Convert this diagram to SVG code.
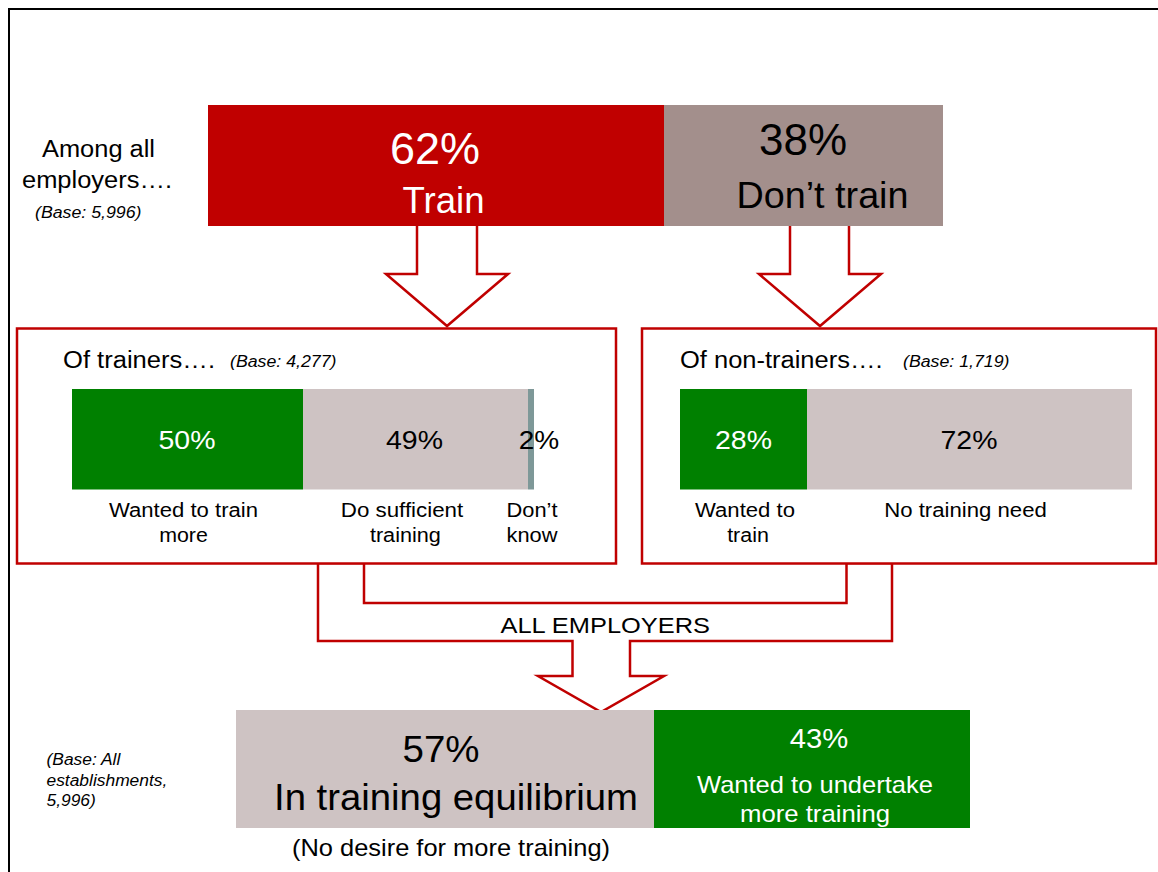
<svg xmlns="http://www.w3.org/2000/svg" width="1158" height="872" viewBox="0 0 1158 872">
<style>
text{font-family:"Liberation Sans",Arial,sans-serif;}
.it{font-style:italic;}
.w{fill:#ffffff;}
.k{fill:#000000;}
.m{text-anchor:middle;}
.box{fill:#ffffff;stroke:#C00000;stroke-width:2.5;}
.con{fill:#ffffff;stroke:#C00000;stroke-width:2.5;stroke-linejoin:miter;}
.red{fill:#C00000;}
.mauve{fill:#A38F8C;}
.lg{fill:#CEC3C3;}
.gr{fill:#008000;}
.sl{fill:#7E9898;}
</style>
<rect x="0" y="0" width="1158" height="872" fill="#ffffff"/>
<rect x="9" y="9" width="1200" height="900" fill="none" stroke="#000000" stroke-width="2"/>

<g id="intro">
<text x="42" y="157" font-size="23" textLength="113" lengthAdjust="spacingAndGlyphs">Among all</text>
<text x="22" y="188" font-size="23" textLength="150" lengthAdjust="spacingAndGlyphs">employers….</text>
<text class="it" x="35" y="218" font-size="16" textLength="106.5" lengthAdjust="spacingAndGlyphs">(Base: 5,996)</text>
</g>

<g id="connectors">
<path class="con" d="M417,226 L417,274 L386,274 L447,326 L508,274 L477,274 L477,226"/>
<path class="con" d="M790,226 L790,274 L759,274 L820,326 L881,274 L849,274 L849,226"/>
</g>

<g id="top-bar">
<rect class="red" x="208" y="105" width="456" height="121"/>
<rect class="mauve" x="664" y="105" width="279" height="121"/>
<text class="w m" x="435" y="164" font-size="44" textLength="90" lengthAdjust="spacingAndGlyphs">62%</text>
<text class="w m" x="443.5" y="213" font-size="36" textLength="82" lengthAdjust="spacingAndGlyphs">Train</text>
<text class="k m" x="803" y="155" font-size="44" textLength="88" lengthAdjust="spacingAndGlyphs">38%</text>
<text class="k m" x="822.5" y="208" font-size="36" textLength="172" lengthAdjust="spacingAndGlyphs">Don’t train</text>
</g>

<g id="merge-connector">
<path class="con" d="M318,563 L318,641 L572.5,641 L572.5,676 L538,676 L601,712 L664,676 L630,676 L630,641 L892,641 L892,563 L846.5,563 L846.5,603 L364,603 L364,563 Z"/>
<text x="500.5" y="633" font-size="22" textLength="209.5" lengthAdjust="spacingAndGlyphs">ALL EMPLOYERS</text>
</g>

<g id="trainers">
<rect class="box" x="17" y="328.5" width="599" height="235"/>
<text x="63" y="368" font-size="23" textLength="152" lengthAdjust="spacingAndGlyphs">Of trainers….</text>
<text class="it" x="230" y="366.5" font-size="16" textLength="106.5" lengthAdjust="spacingAndGlyphs">(Base: 4,277)</text>
<rect class="gr" x="72" y="389" width="231" height="100.5"/>
<rect class="lg" x="303" y="389" width="225" height="100.5"/>
<rect class="sl" x="528" y="389" width="6" height="100.5"/>
<text class="w m" x="187" y="449" font-size="26" textLength="57" lengthAdjust="spacingAndGlyphs">50%</text>
<text class="k m" x="414.5" y="449" font-size="26" textLength="57" lengthAdjust="spacingAndGlyphs">49%</text>
<text class="k m" x="539" y="449" font-size="26" textLength="40.5" lengthAdjust="spacingAndGlyphs">2%</text>
<text class="m" x="183.5" y="517" font-size="20" textLength="149" lengthAdjust="spacingAndGlyphs">Wanted to train</text>
<text class="m" x="183.5" y="542" font-size="20" textLength="48.7" lengthAdjust="spacingAndGlyphs">more</text>
<text class="m" x="402" y="517" font-size="20" textLength="122.5" lengthAdjust="spacingAndGlyphs">Do sufficient</text>
<text class="m" x="405.4" y="542" font-size="20" textLength="71" lengthAdjust="spacingAndGlyphs">training</text>
<text class="m" x="532" y="517" font-size="20" textLength="51" lengthAdjust="spacingAndGlyphs">Don’t</text>
<text class="m" x="532" y="542" font-size="20" textLength="51" lengthAdjust="spacingAndGlyphs">know</text>
</g>

<g id="non-trainers">
<rect class="box" x="642" y="328.5" width="514" height="235"/>
<text x="680" y="368" font-size="23" textLength="202.5" lengthAdjust="spacingAndGlyphs">Of non-trainers….</text>
<text class="it" x="903" y="366.5" font-size="16" textLength="106.5" lengthAdjust="spacingAndGlyphs">(Base: 1,719)</text>
<rect class="gr" x="680" y="389" width="127" height="100.5"/>
<rect class="lg" x="807" y="389" width="325" height="100.5"/>
<text class="w m" x="743.5" y="449" font-size="26" textLength="57" lengthAdjust="spacingAndGlyphs">28%</text>
<text class="k m" x="969" y="449" font-size="26" textLength="57" lengthAdjust="spacingAndGlyphs">72%</text>
<text class="m" x="745" y="517" font-size="20" textLength="100" lengthAdjust="spacingAndGlyphs">Wanted to</text>
<text class="m" x="748" y="542" font-size="20" textLength="41.7" lengthAdjust="spacingAndGlyphs">train</text>
<text class="m" x="965.5" y="517" font-size="20" textLength="162.6" lengthAdjust="spacingAndGlyphs">No training need</text>
</g>

<g id="all-employers">
<rect class="lg" x="236" y="710" width="418" height="118"/>
<rect class="gr" x="654" y="710" width="316" height="118"/>
<text class="k m" x="441" y="762" font-size="36" textLength="77" lengthAdjust="spacingAndGlyphs">57%</text>
<text class="k m" x="456" y="810" font-size="36" textLength="364" lengthAdjust="spacingAndGlyphs">In training equilibrium</text>
<text class="w m" x="819" y="748" font-size="27" textLength="58.5" lengthAdjust="spacingAndGlyphs">43%</text>
<text class="w m" x="815" y="793" font-size="24" textLength="236" lengthAdjust="spacingAndGlyphs">Wanted to undertake</text>
<text class="w m" x="815" y="822" font-size="24" textLength="150" lengthAdjust="spacingAndGlyphs">more training</text>
<text class="k m" x="451" y="856" font-size="24" textLength="318" lengthAdjust="spacingAndGlyphs">(No desire for more training)</text>
<text class="it" x="46.5" y="765" font-size="17.4">(Base: All</text>
<text class="it" x="46.5" y="786" font-size="17.4">establishments,</text>
<text class="it" x="46.5" y="806" font-size="17.4">5,996)</text>
</g>
</svg>
